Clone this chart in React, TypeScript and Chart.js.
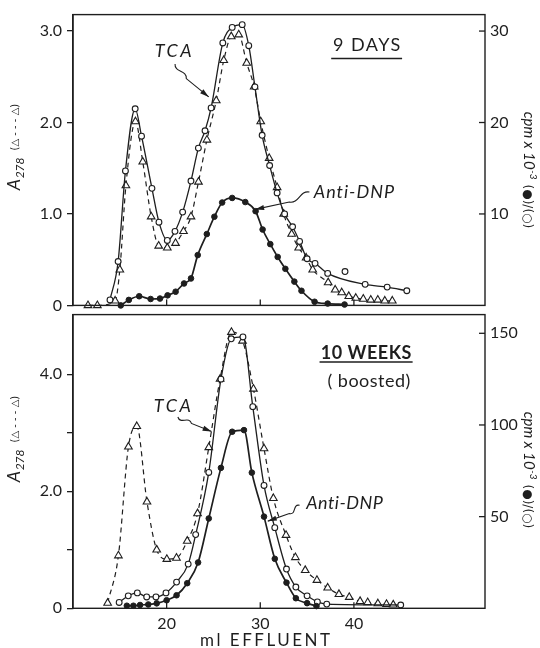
import React, { useEffect, useRef } from 'react';
import { Chart, registerables } from 'chart.js';

Chart.register(...registerables);

const INK = '#1e1e1e';
const FONT = 'Lato, "Open Sans", "DejaVu Sans", sans-serif';

// ---------- shared x axis ----------
const X_MIN = 10;
const X_MAX = 54;
const X_TICKS = [20, 30, 40];
const X_TITLE = 'ml EFFLUENT';

// ---------- top panel: 9 days ----------
const TOP_LEFT_MAX = 3.18;
const TOP_RIGHT_MAX = 31.8;
const TOP_LEFT_TICKS = [0, 1, 2, 3];
const TOP_LEFT_LABELS = ['0', '1.0', '2.0', '3.0'];
const TOP_RIGHT_TICKS = [10, 20, 30];

// A278 (triangles, dashed) – left axis
const TOP_A278_ML = [11.6, 12.6, 14.5, 15.0, 15.65, 16.67, 17.45, 18.35, 19.15, 20.07, 20.95, 21.8, 22.6, 23.4, 24.3, 25.3, 26.1, 26.9, 27.7, 28.55, 29.35, 30.05, 30.95, 31.8, 32.5, 33.35, 34.1, 34.9, 35.6, 37.25, 38.0, 38.7, 39.45, 40.2, 41.0, 41.8, 42.55, 43.3, 44.1];
const TOP_A278 = [0, 0, 0.05, 0.39, 1.31, 2.01, 1.57, 0.97, 0.65, 0.63, 0.68, 0.81, 0.97, 1.35, 1.81, 2.24, 2.68, 2.94, 2.96, 2.65, 2.39, 2.01, 1.61, 1.29, 1.0, 0.78, 0.63, 0.52, 0.39, 0.25, 0.17, 0.14, 0.1, 0.08, 0.07, 0.06, 0.06, 0.05, 0.05];
// TCA cpm x10^-3 (open circles) – right axis
const TOP_TCA_ML = [13.95, 14.82, 15.6, 16.64, 17.32, 18.43, 19.18, 20.07, 20.89, 21.71, 22.6, 23.39, 24.1, 24.75, 26.0, 27.0, 28.07, 28.77, 29.43, 30.2, 31.0, 31.8, 32.6, 33.45, 34.2, 35.0, 35.85, 37.2, 41.2, 43.55, 45.65];
const TOP_TCA = [0.6, 4.8, 14.7, 21.5, 18.5, 12.8, 9.1, 7.1, 8.1, 10.2, 13.6, 17.2, 19.1, 21.6, 28.7, 30.4, 30.7, 28.4, 23.9, 18.6, 15.3, 12.3, 10.0, 8.6, 7.0, 5.1, 4.6, 3.5, 2.3, 2.0, 1.6];
const TOP_TCA_STRAY_ML = [39.05];
const TOP_TCA_STRAY = [3.7];
// Anti-DNP cpm x10^-3 (filled circles) – right axis
const TOP_DNP_ML = [15.1, 15.96, 17.07, 18.29, 19.29, 20.1, 20.96, 21.86, 22.6, 23.32, 24.29, 25.1, 25.93, 27.0, 28.4, 29.5, 30.25, 31.07, 31.86, 32.68, 33.64, 34.4, 35.8, 37.2, 39.0];
const TOP_DNP = [0.0, 0.6, 1.0, 0.7, 0.75, 1.1, 1.5, 2.4, 2.95, 5.5, 7.8, 9.7, 11.25, 11.75, 11.3, 10.3, 8.3, 6.7, 5.3, 4.0, 2.6, 1.6, 0.4, 0.2, 0.1];

// ---------- bottom panel: 10 weeks (boosted) ----------
const BOT_LEFT_MAX = 5.02;
const BOT_RIGHT_MAX = 160.2;
const BOT_LEFT_TICKS = [0, 1, 2, 3, 4];
const BOT_LEFT_LABELS = ['0', '', '2.0', '', '4.0'];
const BOT_RIGHT_TICKS = [50, 100, 150];

const BOT_A278_ML = [13.7, 14.85, 15.92, 16.81, 17.9, 18.94, 20.02, 21.05, 22.2, 23.3, 24.5, 25.71, 26.92, 28.1, 29.27, 30.4, 31.4, 32.75, 33.75, 34.8, 36.05, 37.2, 38.4, 39.5, 40.66, 41.47, 42.56, 43.48, 44.2];
const BOT_A278 = [0.09, 0.9, 2.76, 3.11, 1.82, 1.0, 0.84, 0.86, 1.15, 1.62, 2.75, 3.92, 4.72, 4.57, 3.75, 2.73, 1.88, 1.25, 0.87, 0.65, 0.48, 0.35, 0.24, 0.19, 0.12, 0.1, 0.08, 0.07, 0.06];
const BOT_TCA_ML = [14.93, 15.9, 16.87, 17.87, 18.86, 19.93, 21.06, 22.3, 23.1, 24.5, 25.8, 26.9, 28.15, 29.2, 30.4, 31.55, 32.8, 33.8, 35.0, 36.1, 37.1, 45.0];
const BOT_TCA = [3.2, 6.8, 8.4, 6.2, 6.2, 8.4, 14.3, 24.1, 40.2, 74.1, 125, 147, 148, 110, 67, 44, 21.4, 11.6, 6.8, 3.5, 2.3, 1.8];
const BOT_DNP_ML = [15.75, 16.45, 17.16, 18.04, 18.94, 20.0, 21.06, 22.2, 23.36, 24.5, 25.8, 27.0, 28.26, 29.1, 30.4, 31.55, 32.8, 33.8, 35.0, 36.0];
const BOT_DNP = [1.4, 1.4, 1.8, 2.1, 2.7, 4.4, 7.1, 13.7, 25, 49, 76.6, 96.3, 97.2, 74, 50, 27, 14, 5.5, 2.8, 1.2];

type Note = { text: string; x: number; y: number; font: string; spacing?: number; underlineY?: number };
type Arrow = { from: [number, number]; bend: [number, number]; to: [number, number] };

const TOP_NOTES: Note[] = [
  { text: '9 DAYS', x: 41.36, y: 2.845, font: `18px ${FONT}`, spacing: 1.5, underlineY: 2.7 },
  { text: 'TCA', x: 20.7, y: 2.78, font: `italic 18px ${FONT}`, spacing: 2.5 },
  { text: 'Anti-DNP', x: 40.0, y: 1.24, font: `italic 18px ${FONT}`, spacing: 1 },
];
const TOP_ARROWS: Arrow[] = [
  { from: [20.9, 2.64], bend: [22.1, 2.48], to: [24.5, 2.28] },
  { from: [35.25, 1.24], bend: [33.1, 1.13], to: [29.45, 1.05] },
];
const BOT_NOTES: Note[] = [
  { text: '10 WEEKS', x: 41.3, y: 4.36, font: `bold 18px ${FONT}`, spacing: 0.5, underlineY: 4.21 },
  { text: '( boosted)', x: 41.6, y: 3.89, font: `18px ${FONT}`, spacing: 0.5 },
  { text: 'TCA', x: 20.6, y: 3.45, font: `italic 18px ${FONT}`, spacing: 2.5 },
  { text: 'Anti-DNP', x: 39.0, y: 1.8, font: `italic 18px ${FONT}`, spacing: 0.5 },
];
const BOT_ARROWS: Arrow[] = [
  { from: [21.2, 3.27], bend: [22.65, 3.16], to: [24.8, 3.02] },
  { from: [34.2, 1.76], bend: [33.1, 1.62], to: [30.8, 1.49] },
];

const xy = (xs: number[], ys: number[]) => xs.map((x, i) => ({ x, y: ys[i] }));

interface PanelSpec {
  canvasTop: number;
  canvasHeight: number;
  padTop: number;
  padBottom: number;
  xAxisHeight: number;
  showX: boolean;
  leftMax: number;
  rightMax: number;
  leftTicks: number[];
  leftLabels: string[];
  rightTicks: number[];
  a278: { x: number; y: number }[];
  tca: { x: number; y: number }[];
  tcaStray: { x: number; y: number }[];
  dnp: { x: number; y: number }[];
  notes: Note[];
  arrows: Arrow[];
  leftLabelY: number;
  rightLabelY: number;
}

function drawLeftLabel(ctx: CanvasRenderingContext2D, cx: number, cy: number) {
  ctx.save();
  ctx.translate(cx, cy);
  ctx.rotate(-Math.PI / 2);
  ctx.fillStyle = INK;
  ctx.textAlign = 'left';
  ctx.textBaseline = 'alphabetic';
  const parts = [
    { t: 'A', f: `italic 18px ${FONT}`, dy: 0, gap: 0.5 },
    { t: '278', f: `italic 12px ${FONT}`, dy: 4, gap: 7 },
    { t: '(△ - - - △)', f: `10px "DejaVu Sans", ${FONT}`, dy: -2, gap: 0 },
  ];
  let total = 0;
  const widths: number[] = [];
  for (const p of parts) {
    ctx.font = p.f;
    const w = ctx.measureText(p.t).width;
    widths.push(w);
    total += w + p.gap;
  }
  let x = -total / 2;
  parts.forEach((p, i) => {
    ctx.font = p.f;
    ctx.fillText(p.t, x, p.dy);
    x += widths[i] + p.gap;
  });
  ctx.restore();
}

function drawRightLabel(ctx: CanvasRenderingContext2D, cx: number, cy: number) {
  ctx.save();
  ctx.translate(cx, cy);
  ctx.rotate(Math.PI / 2);
  ctx.fillStyle = INK;
  ctx.textAlign = 'left';
  ctx.textBaseline = 'alphabetic';
  const parts = [
    { t: 'cpm x 10', f: `italic 15px ${FONT}`, dy: 0, gap: 0.5 },
    { t: '-3', f: `italic 10px ${FONT}`, dy: -6, gap: 5 },
    { t: '(●)/(○)', f: `12px "DejaVu Sans", ${FONT}`, dy: 0, gap: 0 },
  ];
  let total = 0;
  const widths: number[] = [];
  for (const p of parts) {
    ctx.font = p.f;
    const w = ctx.measureText(p.t).width;
    widths.push(w);
    total += w + p.gap;
  }
  let x = -total / 2;
  parts.forEach((p, i) => {
    ctx.font = p.f;
    ctx.fillText(p.t, x, p.dy);
    x += widths[i] + p.gap;
  });
  ctx.restore();
}

function squiggleArrow(ctx: CanvasRenderingContext2D, x0: number, y0: number, xm: number, ym: number, x1: number, y1: number) {
  const dx = xm - x0;
  const dy = ym - y0;
  const len = Math.hypot(dx, dy) || 1;
  const nx = -dy / len;
  const ny = dx / len;
  ctx.beginPath();
  ctx.moveTo(x0, y0);
  ctx.bezierCurveTo(x0 + dx * 0.35 + nx * 6, y0 + dy * 0.35 + ny * 6, x0 + dx * 0.65 - nx * 6, y0 + dy * 0.65 - ny * 6, xm, ym);
  ctx.lineTo(x1, y1);
  ctx.stroke();
  const ang = Math.atan2(y1 - ym, x1 - xm);
  const L = 9;
  const W = 2.6;
  const c = Math.cos(ang);
  const s = Math.sin(ang);
  ctx.beginPath();
  ctx.moveTo(x1, y1);
  ctx.lineTo(x1 - L * c + W * s, y1 - L * s - W * c);
  ctx.lineTo(x1 - L * c - W * s, y1 - L * s + W * c);
  ctx.closePath();
  ctx.fill();
}

function makeDecor(s: PanelSpec) {
  return {
    id: 'panelDecor',
    afterDraw(chart: any) {
      const { ctx, chartArea: a, scales } = chart;
      const xs = scales.x;
      const yl = scales.yL;
      const yr = scales.yR;
      ctx.save();
      ctx.strokeStyle = INK;
      ctx.fillStyle = INK;
      ctx.lineWidth = 1.4;
      ctx.strokeRect(a.left, a.top, a.right - a.left, a.bottom - a.top);
      // inward ticks on the right axis
      ctx.lineWidth = 1.3;
      for (const v of s.rightTicks) {
        const y = yr.getPixelForValue(v);
        ctx.beginPath();
        ctx.moveTo(a.right - 6, y);
        ctx.lineTo(a.right, y);
        ctx.stroke();
      }
      // inward ticks on the x axis
      for (const v of X_TICKS) {
        const x = xs.getPixelForValue(v);
        ctx.beginPath();
        ctx.moveTo(x, a.bottom);
        ctx.lineTo(x, a.bottom - 6);
        ctx.stroke();
      }
      // annotations
      ctx.textAlign = 'center';
      ctx.textBaseline = 'middle';
      for (const n of s.notes) {
        ctx.font = n.font;
        (ctx as any).letterSpacing = `${n.spacing || 0}px`;
        const px = xs.getPixelForValue(n.x);
        const py = yl.getPixelForValue(n.y);
        ctx.fillText(n.text, px + (n.spacing || 0) / 2, py);
        if (n.underlineY !== undefined) {
          const w = ctx.measureText(n.text).width;
          const uy = yl.getPixelForValue(n.underlineY);
          ctx.lineWidth = 1.6;
          ctx.beginPath();
          ctx.moveTo(px - w / 2 - 1, uy);
          ctx.lineTo(px + w / 2 + 1, uy);
          ctx.stroke();
        }
      }
      // x-axis title (bottom panel only), letter-spaced like the original
      if (s.showX) {
        ctx.font = `17px ${FONT}`;
        (ctx as any).letterSpacing = '2.5px';
        ctx.textBaseline = 'alphabetic';
        const cx = (a.left + a.right) / 2 - 14;
        ctx.fillText(X_TITLE, cx + 1.25, chart.height - 2);
      }
      (ctx as any).letterSpacing = '0px';
      ctx.lineWidth = 1.1;
      for (const ar of s.arrows) {
        squiggleArrow(
          ctx,
          xs.getPixelForValue(ar.from[0]), yl.getPixelForValue(ar.from[1]),
          xs.getPixelForValue(ar.bend[0]), yl.getPixelForValue(ar.bend[1]),
          xs.getPixelForValue(ar.to[0]), yl.getPixelForValue(ar.to[1]),
        );
      }
      ctx.restore();
      drawLeftLabel(ctx, 20, s.leftLabelY);
      drawRightLabel(ctx, 524, s.rightLabelY);
    },
  };
}

function buildConfig(s: PanelSpec) {
  const tickFont = { family: FONT, size: 16 };
  const common = { fill: false, cubicInterpolationMode: 'monotone', clip: false, borderColor: INK, pointBorderColor: INK, pointHoverRadius: 0 };
  return {
    type: 'line',
    data: {
      datasets: [
        { ...common, label: 'Anti-DNP', data: s.dnp, yAxisID: 'yR', borderWidth: 1.7, pointRadius: 2.8, pointBackgroundColor: INK, pointBorderWidth: 1 },
        { ...common, label: 'TCA', data: s.tca, yAxisID: 'yR', borderWidth: 1.3, pointRadius: 2.9, pointBackgroundColor: '#fff', pointBorderWidth: 1.1 },
        { ...common, label: 'TCA stray', data: s.tcaStray, yAxisID: 'yR', showLine: false, pointRadius: 2.9, pointBackgroundColor: '#fff', pointBorderWidth: 1.1 },
        { ...common, label: 'A278', data: s.a278, yAxisID: 'yL', borderWidth: 1.2, borderDash: [5, 4], pointStyle: 'triangle', pointRadius: 4.4, pointBackgroundColor: '#fff', pointBorderWidth: 1.1 },
      ],
    },
    options: {
      responsive: false,
      maintainAspectRatio: false,
      animation: false,
      events: [],
      layout: { padding: { top: s.padTop, bottom: s.padBottom, left: 0, right: 0 } },
      plugins: { legend: { display: false }, tooltip: { enabled: false } },
      scales: {
        x: s.showX
          ? {
              type: 'linear',
              min: X_MIN,
              max: X_MAX,
              afterBuildTicks: (sc: any) => { sc.ticks = X_TICKS.map((v) => ({ value: v })); },
              afterFit: (sc: any) => { sc.height = s.xAxisHeight; },
              ticks: { font: tickFont, color: INK, padding: 6, maxRotation: 0, autoSkip: false },
              grid: { display: false, drawTicks: false },
              border: { display: false },
              title: { display: false },
            }
          : { type: 'linear', min: X_MIN, max: X_MAX, display: false },
        yL: {
          type: 'linear',
          position: 'left',
          min: 0,
          max: s.leftMax,
          afterBuildTicks: (sc: any) => { sc.ticks = s.leftTicks.map((v) => ({ value: v })); },
          afterFit: (sc: any) => { sc.width = 73; },
          ticks: { font: tickFont, color: INK, padding: 5, autoSkip: false, callback: (_v: any, i: number) => s.leftLabels[i] },
          grid: { drawOnChartArea: false, drawTicks: true, tickLength: 6, color: INK, lineWidth: 1.3 },
          border: { display: true, color: INK, width: 1.4 },
        },
        yR: {
          type: 'linear',
          position: 'right',
          min: 0,
          max: s.rightMax,
          afterBuildTicks: (sc: any) => { sc.ticks = s.rightTicks.map((v) => ({ value: v })); },
          afterFit: (sc: any) => { sc.width = 55; },
          ticks: { font: tickFont, color: INK, padding: 5, autoSkip: false, callback: (v: any) => String(v) },
          grid: { display: false, drawTicks: false },
          border: { display: false },
        },
      },
    },
    plugins: [makeDecor(s)],
  };
}

const TOP: PanelSpec = {
  canvasTop: 0,
  canvasHeight: 320,
  padTop: 12,
  padBottom: 10.7,
  xAxisHeight: 0,
  showX: false,
  leftMax: TOP_LEFT_MAX,
  rightMax: TOP_RIGHT_MAX,
  leftTicks: TOP_LEFT_TICKS,
  leftLabels: TOP_LEFT_LABELS,
  rightTicks: TOP_RIGHT_TICKS,
  a278: xy(TOP_A278_ML, TOP_A278),
  tca: xy(TOP_TCA_ML, TOP_TCA),
  tcaStray: xy(TOP_TCA_STRAY_ML, TOP_TCA_STRAY),
  dnp: xy(TOP_DNP_ML, TOP_DNP),
  notes: TOP_NOTES,
  arrows: TOP_ARROWS,
  leftLabelY: 147,
  rightLabelY: 170,
};

const BOTTOM: PanelSpec = {
  canvasTop: 300,
  canvasHeight: 348,
  padTop: 9.3,
  padBottom: 0,
  xAxisHeight: 39.7,
  showX: true,
  leftMax: BOT_LEFT_MAX,
  rightMax: BOT_RIGHT_MAX,
  leftTicks: BOT_LEFT_TICKS,
  leftLabels: BOT_LEFT_LABELS,
  rightTicks: BOT_RIGHT_TICKS,
  a278: xy(BOT_A278_ML, BOT_A278),
  tca: xy(BOT_TCA_ML, BOT_TCA),
  tcaStray: [],
  dnp: xy(BOT_DNP_ML, BOT_DNP),
  notes: BOT_NOTES,
  arrows: BOT_ARROWS,
  leftLabelY: 139,
  rightLabelY: 170,
};

function Panel({ spec }: { spec: PanelSpec }) {
  const ref = useRef<HTMLCanvasElement>(null);
  useEffect(() => {
    if (!ref.current) return;
    const chart = new Chart(ref.current, buildConfig(spec) as any);
    return () => chart.destroy();
  }, [spec]);
  return (
    <canvas
      ref={ref}
      width={540}
      height={spec.canvasHeight}
      style={{ position: 'absolute', left: 0, top: spec.canvasTop, display: 'block' }}
    />
  );
}

export default function App() {
  return (
    <div style={{ position: 'absolute', left: 0, top: 0, width: 540, height: 648, background: '#fff', overflow: 'hidden' }}>
      <Panel spec={TOP} />
      <Panel spec={BOTTOM} />
    </div>
  );
}
